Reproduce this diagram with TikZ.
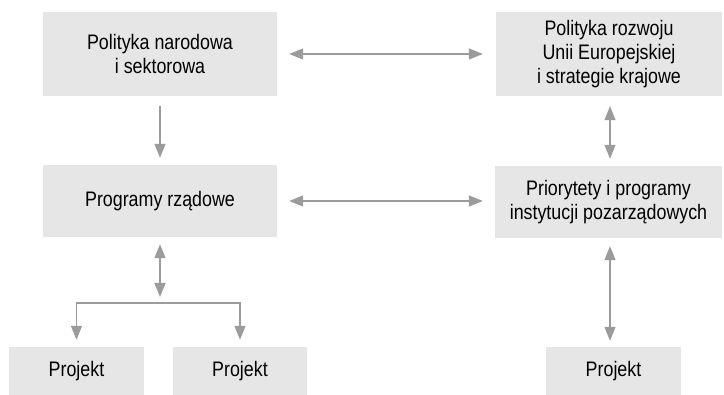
\documentclass[tikz,border=0pt]{standalone}
\usepackage{fontspec}
\setmainfont{Liberation Sans}[FakeStretch=0.85]
\usetikzlibrary{arrows.meta,calc}
\definecolor{boxgray}{RGB}{230,230,230}
\definecolor{arrgray}{RGB}{155,155,155}
\tikzset{
  box/.style={fill=boxgray, draw=none, align=center, inner sep=0pt,
    font=\fontsize{21}{24}\selectfont},
  conn/.style={draw=arrgray, line width=1.3pt,
    arrows={-Triangle[length=14pt,width=11pt,fill=arrgray]}},
  dconn/.style={draw=arrgray, line width=1.3pt,
    arrows={Triangle[length=14pt,width=11pt,fill=arrgray]-Triangle[length=14pt,width=11pt,fill=arrgray]}}
}
\begin{document}
\begin{tikzpicture}[x=1pt,y=-1pt]
\useasboundingbox (0,0) rectangle (724,395);
\node[box, minimum width=234pt, minimum height=84pt] (nar) at (160,54) {Polityka narodowa\\i sektorowa};
\node[box, minimum width=226pt, minimum height=84pt] (eu) at (609,54) {Polityka rozwoju\\Unii Europejskiej\\i strategie krajowe};
\node[box, minimum width=234pt, minimum height=72pt] (rz) at (160,201) {Programy rządowe};
\node[box, minimum width=227pt, minimum height=72pt] (ngo) at (608.5,202) {Priorytety i programy\\instytucji pozarządowych};
\node[box, minimum width=135pt, minimum height=48pt] (p1) at (76.5,371) {Projekt};
\node[box, minimum width=134pt, minimum height=48pt] (p2) at (240,371) {Projekt};
\node[box, minimum width=135pt, minimum height=48pt] (p3) at (613.5,371) {Projekt};
\coordinate (br) at (160,303);
% connectors
\draw[conn, shorten <=10pt, shorten >=7pt] (nar.south) -- (rz.north);
\draw[dconn, shorten <=12pt, shorten >=13pt] (nar.east) -- (eu.west |- nar.east);
\draw[dconn, shorten <=10pt, shorten >=7pt] ($(eu.south)+(1,0)$) -- ($(eu.south |- ngo.north)+(1,0)$);
\draw[dconn, shorten <=12pt, shorten >=12pt] (rz.east) -- (ngo.west |- rz.east);
\draw[dconn, shorten <=7pt, shorten >=6pt] (rz.south) -- (br);
\draw[dconn, shorten <=7pt, shorten >=7pt] (p1.north) |- (br) -| (p2.north);
\draw[dconn, shorten <=8pt, shorten >=6pt] ($(ngo.south)+(1.5,0)$) -- ($(ngo.south |- p3.north)+(1.5,0)$);
\end{tikzpicture}
\end{document}
